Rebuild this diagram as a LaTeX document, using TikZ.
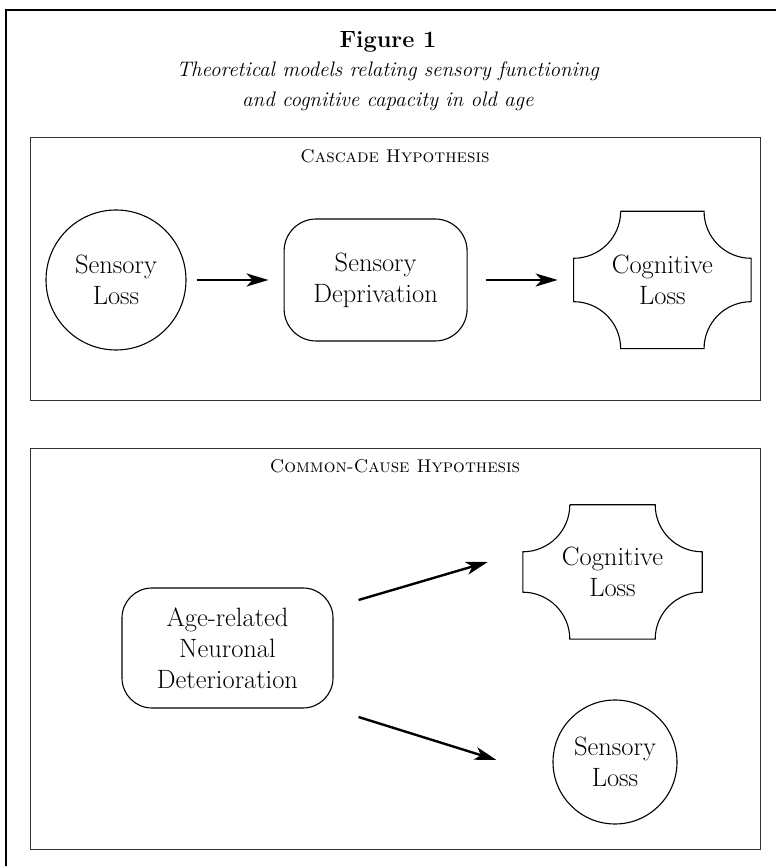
\documentclass[tikz,border=0pt]{standalone}
\usepackage{tikz}
\usetikzlibrary{arrows.meta,calc,positioning}

% concave-cornered outline drawn round a node: #1 node, #2 corner radius
\newcommand{\plaqueline}[2]{%
  \draw[line width=1.1pt] ($(#1.north west)+(#2,0)$) -- ($(#1.north east)+(-#2,0)$)
    arc[start angle=180,end angle=270,radius=#2]
    -- ($(#1.south east)+(0,#2)$)
    arc[start angle=90,end angle=180,radius=#2]
    -- ($(#1.south west)+(#2,0)$)
    arc[start angle=0,end angle=90,radius=#2]
    -- ($(#1.north west)+(0,-#2)$)
    arc[start angle=-90,end angle=0,radius=#2];
}

\begin{document}
\begin{tikzpicture}[x=1pt,y=1pt]
    \tikzstyle{txt}=[align=center, font=\fontsize{26.5}{31}\selectfont]
    \tikzstyle{loss}=[txt, circle, draw, line width=1.1pt, inner sep=0pt]
    \tikzstyle{roundbox}=[txt, rectangle, draw, line width=1.1pt, inner sep=0pt]
    \tikzstyle{plaque}=[txt, rectangle, inner sep=0pt]
    \tikzstyle{panel}=[rectangle, draw=black!80, line width=0.9pt, inner sep=0pt]
    \tikzstyle{caption}=[font=\fontsize{18.5}{22}\selectfont\scshape]
    \tikzstyle{arr}=[-{Stealth[length=22pt,width=13pt,inset=6pt]}, line width=2.4pt]

    \useasboundingbox (0,0) rectangle (776,866);
    \fill[white] (0,0) rectangle (776,866);

    % outer frame (cut by the page)
    \coordinate (fbot) at (6,0);
    \coordinate (fcorner) at (6,856);
    \coordinate (fright) at (776,856);
    \draw[line width=2.6pt] (fbot) -- (fcorner) -- (fright);

    \node[align=center, font=\fontsize{21}{29.5}\selectfont] (title) at (388,795)
      {{\fontsize{23.5}{29.5}\selectfont\textbf{Figure 1}}\\
       \textit{Theoretical models relating sensory functioning}\\
       \textit{and cognitive capacity in old age}};

    % cascade
    \node[panel, minimum width=730pt, minimum height=263pt] (cascade) at (395,597.5) {};
    \node[caption] (cascadecap) at ($(cascade.north)+(0,-20)$) {Cascade Hypothesis};

    \node[loss, minimum size=140pt] (loss1) at (116,586) {Sensory\\Loss};
    \node[roundbox, rounded corners=32pt, minimum width=183pt, minimum height=122pt]
      (depr) [right=97pt of loss1] {Sensory\\Deprivation};
    \node[plaque, minimum width=177pt, minimum height=137pt]
      (cog1) [right=106pt of depr] {Cognitive\\Loss};
    \plaqueline{cog1}{47pt}

    \draw[arr, shorten <=10pt, shorten >=15pt] (loss1) -- (depr);
    \draw[arr, shorten <=18pt, shorten >=16pt] (depr) -- (cog1);

    % common cause
    \node[panel, minimum width=730pt, minimum height=401pt] (common) at (395,217.5) {};
    \node[caption] (commoncap) at ($(common.north)+(0,-19)$) {Common-Cause Hypothesis};

    \node[roundbox, rounded corners=30pt, minimum width=211pt, minimum height=120pt]
      (age) at (227.5,218) {Age-related\\Neuronal\\Deterioration};
    \node[plaque, minimum width=179pt, minimum height=134pt] (cog2) at (612.5,294) {Cognitive\\Loss};
    \plaqueline{cog2}{47pt}
    \node[loss, minimum size=124pt] (loss2) at (615,104) {Sensory\\Loss};

    \draw[arr] ($(age.east)+(25,48)$) -- ($(cog2.west)+(-35,10)$);
    \draw[arr] ($(age.east)+(25,-69)$) -- ($(loss2.west)+(-56,2)$);

\end{tikzpicture}
\end{document}
